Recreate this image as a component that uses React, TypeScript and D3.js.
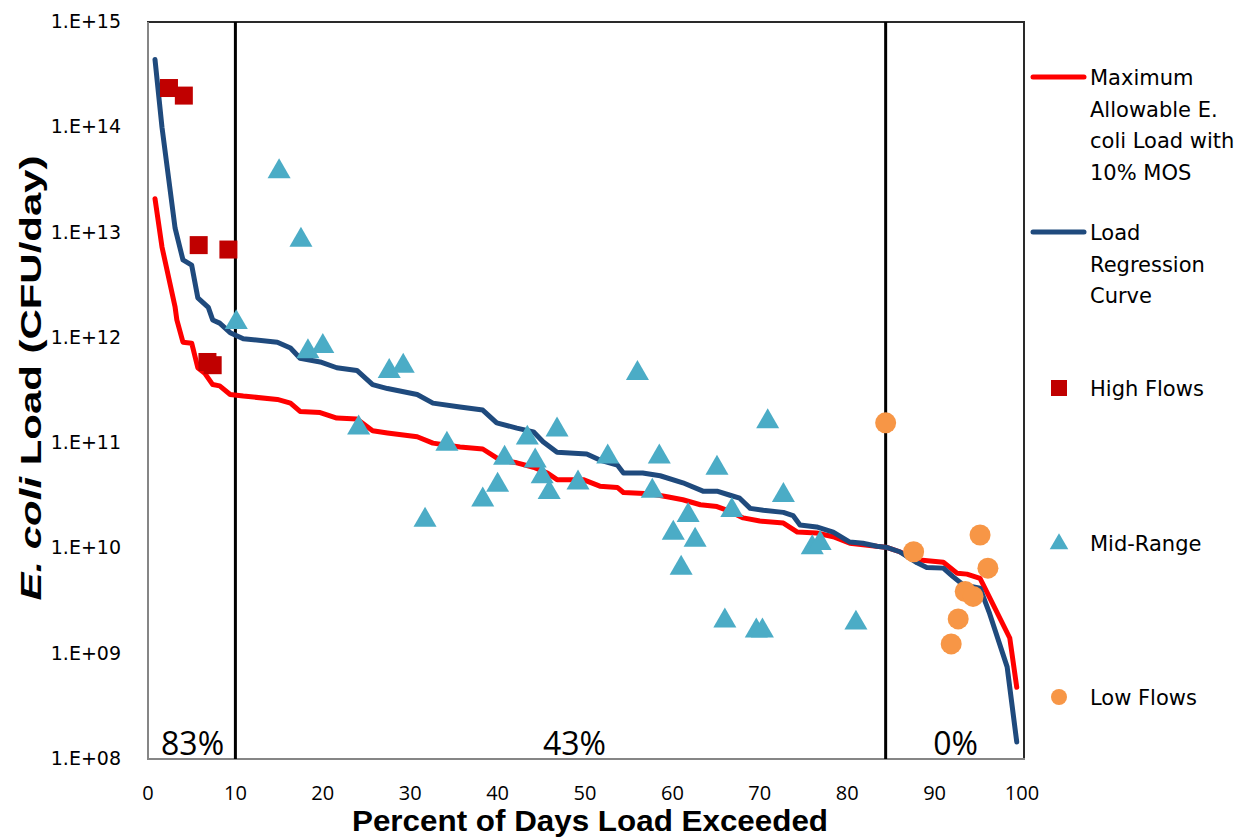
import React, { useEffect, useRef } from "react";
import * as d3 from "d3";

// percent of days exceeded vs load (CFU/day)
const maxAllowPct = [0.8, 1.6, 3.1, 3.3, 4.0, 5.0, 5.7, 6.5, 7.4, 8.2, 9.4, 10.9, 14.8, 16.3, 17.4, 19.7, 21.6, 23.9, 25.7, 27.4, 30.8, 32.6, 35.7, 38.3, 40.3, 42.2, 44.1, 45.7, 46.8, 49.8, 51.7, 53.7, 54.4, 57.4, 59.4, 61.2, 63.2, 65.1, 66.3, 68.1, 70.0, 72.7, 74.3, 76.5, 78.4, 80.3, 84.6, 86.0, 88.0, 91.0, 92.6, 93.7, 95.2, 98.6, 99.4];
const maxAllowLoad = [2.1e13, 7.3e12, 1.96e12, 1.48e12, 9.1e11, 8.9e11, 5.2e11, 4.6e11, 3.6e11, 3.5e11, 2.9e11, 2.8e11, 2.6e11, 2.4e11, 2.0e11, 1.95e11, 1.73e11, 1.7e11, 1.31e11, 1.25e11, 1.15e11, 1.0e11, 9.2e10, 8.8e10, 6.9e10, 6.5e10, 5.9e10, 5.2e10, 4.5e10, 4.5e10, 3.9e10, 3.8e10, 3.4e10, 3.3e10, 3.1e10, 2.9e10, 2.6e10, 2.5e10, 2.3e10, 1.95e10, 1.82e10, 1.74e10, 1.43e10, 1.4e10, 1.29e10, 1.12e10, 1.02e10, 9.3e9, 7.8e9, 7.4e9, 5.8e9, 5.7e9, 5.2e9, 1.41e9, 4.8e8];

const regressPct = [0.8, 1.6, 3.1, 4.0, 5.0, 5.7, 6.9, 7.4, 8.2, 9.4, 10.9, 14.8, 16.3, 17.4, 19.7, 21.6, 23.9, 25.7, 27.4, 30.8, 32.6, 35.7, 38.3, 39.9, 42.2, 44.1, 45.2, 46.8, 50.2, 51.7, 53.7, 54.4, 56.6, 58.6, 61.2, 63.5, 65.1, 66.6, 67.7, 68.9, 70.4, 72.7, 73.8, 74.6, 76.5, 78.4, 80.3, 81.8, 83.4, 84.6, 86.0, 88.0, 89.1, 91.0, 92.1, 93.3, 95.2, 96.3, 98.3, 99.4];
const regressLoad = [4.4e14, 1.0e14, 1.1e13, 5.5e12, 4.9e12, 2.4e12, 1.95e12, 1.48e12, 1.38e12, 1.12e12, 9.8e11, 9.1e11, 8.0e11, 6.4e11, 5.9e11, 5.2e11, 4.9e11, 3.6e11, 3.3e11, 2.9e11, 2.4e11, 2.2e11, 2.06e11, 1.56e11, 1.39e11, 1.28e11, 1.03e11, 8.2e10, 7.9e10, 6.9e10, 6.2e10, 5.2e10, 5.2e10, 4.9e10, 4.2e10, 3.5e10, 3.5e10, 3.2e10, 3.0e10, 2.4e10, 2.3e10, 2.2e10, 2.05e10, 1.67e10, 1.6e10, 1.43e10, 1.15e10, 1.12e10, 1.05e10, 1.02e10, 9.3e9, 7.3e9, 6.6e9, 6.5e9, 5.4e9, 4.5e9, 4.2e9, 2.4e9, 7.5e8, 1.45e8];

const highPct = [2.4, 4.1, 5.8, 9.2, 6.8, 7.4];
const highLoad = [2.36e14, 2.0e14, 7.6e12, 6.9e12, 5.9e11, 5.5e11];

const midPct = [15.0, 17.5, 10.1, 18.3, 20.0, 27.6, 29.2, 24.1, 34.2, 31.7, 56.0, 70.9, 46.8, 43.4, 40.8, 44.3, 52.6, 58.5, 45.1, 40.0, 49.2, 38.3, 45.9, 57.7, 65.1, 72.7, 66.8, 61.8, 60.1, 62.6, 61.0, 76.0, 76.9, 66.0, 69.6, 70.3, 81.0];
const midLoad = [3.8e13, 8.5e12, 1.4e12, 7.4e11, 8.3e11, 4.8e11, 5.4e11, 1.4e11, 9.8e10, 1.86e10, 4.6e11, 1.6e11, 1.34e11, 1.12e11, 7.2e10, 6.8e10, 7.4e10, 7.4e10, 4.8e10, 4.0e10, 4.2e10, 2.9e10, 3.4e10, 3.5e10, 5.8e10, 3.2e10, 2.3e10, 2.06e10, 1.4e10, 1.2e10, 6.5e9, 1.02e10, 1.12e10, 2.05e9, 1.65e9, 1.65e9, 1.96e9];

const lowPct = [84.4, 87.6, 95.2, 96.1, 93.5, 94.4, 92.7, 91.9];
const lowLoad = [1.56e11, 9.3e9, 1.34e10, 6.5e9, 3.9e9, 3.5e9, 2.14e9, 1.24e9];

const xTicks = [0, 10, 20, 30, 40, 50, 60, 70, 80, 90, 100];
const yTicks = [1e8, 1e9, 1e10, 1e11, 1e12, 1e13, 1e14, 1e15];
const zoneBreaks = [10, 84.4];
const zoneLabels = [
  { pct: 5.1, text: "83%" },
  { pct: 48.8, text: "43%" },
  { pct: 92.4, text: "0%" },
];

const RED = "#FF0000";
const BLUE = "#1F4A7D";
const SQ = "#C00000";
const TRI = "#4BACC6";
const CIRC = "#F79646";

export default function App() {
  const ref = useRef<SVGSVGElement>(null);

  useEffect(() => {
    const svg = d3.select(ref.current);
    svg.selectAll("*").remove();

    const left = 148, right = 1022, top = 22, bottom = 759;
    const x = d3.scaleLinear().domain([0, 100]).range([left, right]);
    const y = d3.scaleLog().domain([1e8, 1e15]).range([bottom, top]);

    // plot frame
    svg.append("rect")
      .attr("x", left).attr("y", top)
      .attr("width", 1024 - left).attr("height", bottom - top)
      .attr("fill", "none").attr("stroke", "#2a2a2a").attr("stroke-width", 2);
    svg.append("line").attr("x1", left).attr("x2", left).attr("y1", top).attr("y2", bottom + 1)
      .attr("stroke", "#868686").attr("stroke-width", 2);
    svg.append("line").attr("x1", left).attr("x2", 1025).attr("y1", bottom).attr("y2", bottom)
      .attr("stroke", "#868686").attr("stroke-width", 2);

    // y ticks
    svg.append("g").selectAll("text").data(yTicks).join("text")
      .attr("x", 121).attr("y", d => y(d) + 6)
      .attr("text-anchor", "end")
      .attr("font-family", "DejaVu Sans").attr("font-size", 19).attr("fill", "#000")
      .text(d => "1.E+" + String(Math.round(Math.log10(d))).padStart(2, "0"));

    // x ticks
    svg.append("g").selectAll("text").data(xTicks).join("text")
      .attr("x", d => x(d)).attr("y", 800)
      .attr("text-anchor", "middle")
      .attr("font-family", "Open Sans").attr("font-size", 20).attr("fill", "#000")
      .text(d => d);

    // zone divider lines
    svg.append("g").selectAll("line").data(zoneBreaks).join("line")
      .attr("x1", d => x(d)).attr("x2", d => x(d))
      .attr("y1", top).attr("y2", bottom)
      .attr("stroke", "#000").attr("stroke-width", 3);

    svg.append("g").selectAll("text").data(zoneLabels).join("text")
      .attr("x", d => x(d.pct)).attr("y", 755)
      .attr("text-anchor", "middle")
      .attr("font-family", "Open Sans").attr("font-size", 32).attr("fill", "#000")
      .text(d => d.text);

    // curves
    const line = d3.line<[number, number]>().x(d => x(d[0])).y(d => y(d[1]));
    const redData = maxAllowPct.map((p, i) => [p, maxAllowLoad[i]] as [number, number]);
    const blueData = regressPct.map((p, i) => [p, regressLoad[i]] as [number, number]);

    svg.append("path").datum(redData).attr("d", line)
      .attr("fill", "none").attr("stroke", RED).attr("stroke-width", 5)
      .attr("stroke-linejoin", "round").attr("stroke-linecap", "round");
    svg.append("path").datum(blueData).attr("d", line)
      .attr("fill", "none").attr("stroke", BLUE).attr("stroke-width", 5)
      .attr("stroke-linejoin", "round").attr("stroke-linecap", "round");

    // markers
    const sq = 18;
    svg.append("g").selectAll("rect").data(highPct).join("rect")
      .attr("x", (d) => x(d) - sq / 2)
      .attr("y", (d, i) => y(highLoad[i]) - sq / 2)
      .attr("width", sq).attr("height", sq).attr("fill", SQ);

    const tri = d3.symbol().type(d3.symbolTriangle).size(230);
    svg.append("g").selectAll("path").data(midPct).join("path")
      .attr("d", tri)
      .attr("transform", (d, i) => `translate(${x(d)},${y(midLoad[i])})`)
      .attr("fill", TRI);

    svg.append("g").selectAll("circle").data(lowPct).join("circle")
      .attr("cx", d => x(d)).attr("cy", (d, i) => y(lowLoad[i]))
      .attr("r", 10.5).attr("fill", CIRC);

    // axis titles
    svg.append("text")
      .attr("x", 590).attr("y", 831)
      .attr("text-anchor", "middle")
      .attr("font-family", "Liberation Sans").attr("font-weight", "bold").attr("font-size", 29)
      .attr("textLength", 476).attr("lengthAdjust", "spacingAndGlyphs")
      .text("Percent of Days Load Exceeded");

    const yt = svg.append("text")
      .attr("transform", "translate(41,378) rotate(-90)")
      .attr("text-anchor", "middle")
      .attr("font-family", "Liberation Sans").attr("font-weight", "bold").attr("font-size", 30)
      .attr("textLength", 445).attr("lengthAdjust", "spacingAndGlyphs");
    yt.append("tspan").attr("font-style", "italic").text("E. coli");
    yt.append("tspan").text(" Load (CFU/day)");

    // legend
    const lg = svg.append("g").attr("font-family", "DejaVu Sans").attr("font-size", 21).attr("fill", "#000");
    const legendLines = [
      { color: RED, y: 77, lines: ["Maximum", "Allowable E.", "coli Load with", "10% MOS"] },
      { color: BLUE, y: 232, lines: ["Load", "Regression", "Curve"] },
    ];
    legendLines.forEach(item => {
      lg.append("line").attr("x1", 1033).attr("x2", 1084).attr("y1", item.y).attr("y2", item.y)
        .attr("stroke", item.color).attr("stroke-width", 5).attr("stroke-linecap", "round");
      item.lines.forEach((t, i) => {
        lg.append("text").attr("x", 1090).attr("y", item.y + 8 + i * 31.5).text(t);
      });
    });
    lg.append("rect").attr("x", 1051).attr("y", 380).attr("width", 16).attr("height", 16).attr("fill", SQ);
    lg.append("text").attr("x", 1090).attr("y", 396).text("High Flows");
    lg.append("path").attr("d", d3.symbol().type(d3.symbolTriangle).size(150))
      .attr("transform", "translate(1059,544)").attr("fill", TRI);
    lg.append("text").attr("x", 1090).attr("y", 551).text("Mid-Range");
    lg.append("circle").attr("cx", 1059).attr("cy", 697).attr("r", 8).attr("fill", CIRC);
    lg.append("text").attr("x", 1090).attr("y", 705).text("Low Flows");
  }, []);

  return (
    <svg
      ref={ref}
      width={1242}
      height={838}
      style={{ position: "absolute", left: 0, top: 0, background: "#fff" }}
    />
  );
}
